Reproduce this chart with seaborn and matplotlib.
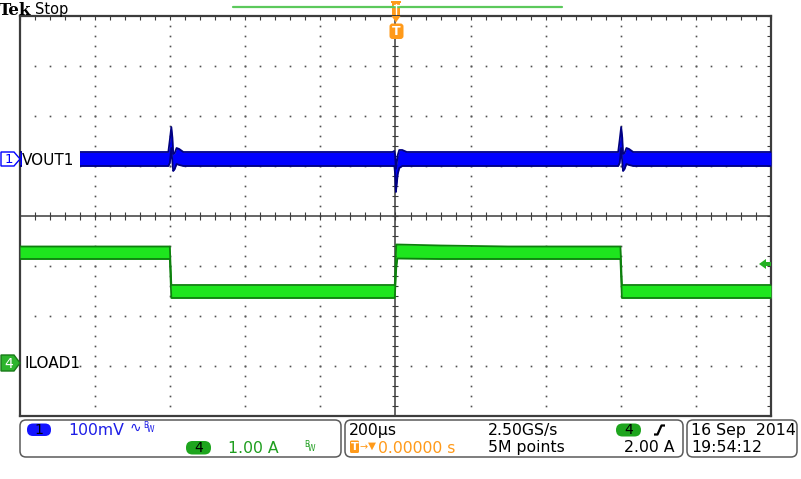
import numpy as np
import pandas as pd
import matplotlib
matplotlib.use("Agg")
import matplotlib.pyplot as plt
import seaborn as sns
from matplotlib.patches import FancyBboxPatch, Polygon, Rectangle

# --- scope settings (as shown on screen) ---
time_per_div_us = 200
ch1_scale_mv = 100
ch4_scale_a = 1.00
trigger_level_a = 2.00

# --- traces: envelope of the noisy band (upper / lower edge) ---
vout_t_us = [-1000,
             -605, -601, -597, -594, -592, -588, -583, -576, -565,
             -8, -3, -1, 1, 3, 6, 10, 18, 30,
             593, 597, 601, 604, 606, 610, 615, 622, 633,
             1000]
vout_hi_mv = [14,
              14, 38, 64, 42, 10, 12, 22, 20, 14,
              14, 16, 8, -20, -10, 8, 18, 18, 14,
              14, 38, 64, 42, 10, 12, 22, 20, 14,
              14]
vout_lo_mv = [-14,
              -14, -8, 22, -8, -24, -20, -10, -12, -14,
              -14, -14, -30, -66, -52, -30, -18, -14, -14,
              -14, -8, 22, -8, -24, -20, -10, -12, -14,
              -14]

iload_t_us = [-1000, -601, -597, -2, 2, 5, 120, 300, 599, 603, 1000]
iload_hi_a = [2.33, 2.33, 1.56, 1.56, 2.37, 2.37, 2.35, 2.33, 2.33, 1.56, 1.56]
iload_lo_a = [2.08, 2.08, 1.30, 1.30, 1.90, 2.09, 2.08, 2.08, 2.08, 1.30, 1.30]

# vertical position of channel ground markers (divisions from centre)
ch1_pos_div = 1.14
ch4_pos_div = -2.94

BLUE = "#0000ff"
BLUE_EDGE = "#000080"
GREEN = "#1ee61e"
GREEN_EDGE = "#0d800d"
ORANGE = "#ff9a1a"
TXT_BLUE = "#1e1ee6"
TXT_GREEN = "#1f9e1f"
GRID = "#3c3c3c"

sns.set_style("white")
plt.rcParams["font.family"] = ["DejaVu Sans"]

W, H = 801, 479
fig = plt.figure(figsize=(W / 100, H / 100), dpi=100)
fig.patch.set_facecolor("white")

# graticule area: x 20..771 px, y 16..416 px
ax = fig.add_axes([20 / W, (H - 416) / H, 751 / W, 400 / H])
ax.set_xlim(-5 * time_per_div_us, 5 * time_per_div_us)
ax.set_ylim(-4, 4)
for s in ax.spines.values():
    s.set_color(GRID)
    s.set_linewidth(1.6)
ax.set_xticks(np.arange(-1000, 1001, 40))
ax.set_yticks(np.arange(-4, 4.01, 0.2))
ax.tick_params(direction="in", length=3, width=0.8, color=GRID,
               top=True, right=True, labelbottom=False, labelleft=False)

# dotted graticule
for xd in [-800, -600, -400, -200, 200, 400, 600, 800]:
    ys = np.arange(-3.8, 3.81, 0.2)
    ax.plot(np.full_like(ys, xd), ys, ls="none", marker="s", ms=1.2,
            color="#505050", mec="none", zorder=1)
for yd in [-3, -2, -1, 1, 2, 3]:
    xs = np.arange(-960, 961, 40)
    ax.plot(xs, np.full_like(xs, yd, dtype=float), ls="none", marker="s",
            ms=1.2, color="#505050", mec="none", zorder=1)

# centre crosshair with minor ticks
ax.axhline(0, color=GRID, lw=1.1, zorder=1)
ax.axvline(0, color=GRID, lw=1.1, zorder=1)
xs = np.arange(-960, 961, 40)
ax.plot(xs, np.zeros_like(xs), ls="none", marker="|", ms=6, mew=0.8,
        color=GRID, zorder=1)
ys = np.arange(-3.8, 3.81, 0.2)
ax.plot(np.zeros_like(ys), ys, ls="none", marker="_", ms=5, mew=0.8,
        color=GRID, zorder=1)

# traces
vout = pd.DataFrame({"t": vout_t_us,
                     "hi": np.array(vout_hi_mv) / ch1_scale_mv + ch1_pos_div,
                     "lo": np.array(vout_lo_mv) / ch1_scale_mv + ch1_pos_div})
iload = pd.DataFrame({"t": iload_t_us,
                      "hi": np.array(iload_hi_a) / ch4_scale_a + ch4_pos_div,
                      "lo": np.array(iload_lo_a) / ch4_scale_a + ch4_pos_div})

for df, fill, edge in [(vout, BLUE, BLUE_EDGE), (iload, GREEN, GREEN_EDGE)]:
    ax.fill_between(df["t"], df["lo"], df["hi"], color=fill, lw=0, zorder=3)
    sns.lineplot(data=df, x="t", y="hi", ax=ax, color=edge, lw=1.3,
                 estimator=None, sort=False, zorder=4)
    sns.lineplot(data=df, x="t", y="lo", ax=ax, color=edge, lw=1.3,
                 estimator=None, sort=False, zorder=4)
ax.set_xlabel("")
ax.set_ylabel("")

# ---------- overlay in pixel coordinates ----------
ov = fig.add_axes([0, 0, 1, 1], zorder=5)
ov.set_xlim(0, W)
ov.set_ylim(H, 0)
ov.axis("off")
ov.patch.set_alpha(0)

# header
ov.text(-1, 15, "Tek", family="DejaVu Serif", weight="bold", size=12,
        color="black", va="baseline")
ov.text(35, 14, "Stop", size=10.5, color="black", va="baseline")
ov.plot([233, 562], [7, 7], color="#5cc95c", lw=1.6)

# trigger position marker
ov.add_patch(Rectangle((392, 2), 8, 13, color=ORANGE, lw=0))
ov.add_patch(Rectangle((391, 1), 10, 2.2, color=ORANGE, lw=0))
ov.plot([396, 396], [4, 14], color="white", lw=1.0)
ov.plot([393.5, 398.5], [4.5, 4.5], color="white", lw=1.0)
ov.add_patch(Polygon([[391.5, 16], [400.5, 16], [396, 22.5]], color=ORANGE, lw=0))
ov.add_patch(FancyBboxPatch((389.5, 23.5), 14, 15.5,
                            boxstyle="round,pad=0,rounding_size=3",
                            fc=ORANGE, ec="none"))
ov.text(396.5, 31.5, "T", color="white", size=9, weight="bold",
        ha="center", va="center")

# channel 1 marker and label
ov.add_patch(Polygon([[1, 152], [14, 152], [20, 159], [14, 166], [1, 166]],
                     fc="white", ec=BLUE, lw=1.0))
ov.text(8.5, 159.5, "1", color=BLUE, size=9.5, ha="center", va="center")
ov.add_patch(Rectangle((21.5, 150), 58.5, 18, fc="white", ec="none"))
ov.text(22, 165, "VOUT1", size=11, color="black", va="baseline")

# channel 4 marker and label
ov.add_patch(Polygon([[1, 355], [14, 355], [20, 363], [14, 371], [1, 371]],
                     fc="#2db52d", ec="#187a18", lw=1.0))
ov.text(8.5, 363.5, "4", color="white", size=10, ha="center", va="center")
ov.text(24, 368, "ILOAD1", size=11, color="black", va="baseline")

# trigger level arrow (right edge)
ov.add_patch(Polygon([[759, 264], [766, 259], [766, 269]],
                     color="#22b022", lw=0))
ov.add_patch(Rectangle((765, 262.3), 6, 3.4, color="#22b022", lw=0))

# ---------- status bar ----------
for x0, x1 in [(20, 341), (345, 683), (687, 797)]:
    ov.add_patch(FancyBboxPatch((x0, 420), x1 - x0, 37,
                                boxstyle="round,pad=0,rounding_size=6",
                                fc="white", ec="#5a5a5a", lw=1.1))

FS = 11.3
# box 1
ov.add_patch(FancyBboxPatch((27, 423.5), 24, 12.5,
                            boxstyle="round,pad=0,rounding_size=6",
                            fc="#1414ff", ec="none"))
ov.text(39, 430, "1", size=10, color="black", ha="center", va="center")
ov.text(68, 435, "100mV", size=FS, color=TXT_BLUE, va="baseline")
ov.text(130, 432, "∿", size=10, color=TXT_BLUE, va="baseline")
ov.text(143, 428, "B", size=5.5, color=TXT_BLUE, va="baseline")
ov.text(147, 432, "W", size=5.5, color=TXT_BLUE, va="baseline")

ov.add_patch(FancyBboxPatch((186, 441), 25, 13.5,
                            boxstyle="round,pad=0,rounding_size=6.5",
                            fc="#1ea51e", ec="none"))
ov.text(198.5, 448, "4", size=10, color="black", ha="center", va="center")
ov.text(228, 453, "1.00 A", size=FS, color=TXT_GREEN, va="baseline")
ov.text(304, 447, "B", size=5.5, color=TXT_GREEN, va="baseline")
ov.text(308, 451, "W", size=5.5, color=TXT_GREEN, va="baseline")

# box 2
ov.text(349, 435, "200µs", size=FS, color="black", va="baseline")
ov.add_patch(FancyBboxPatch((350, 440.5), 9, 12.5,
                            boxstyle="round,pad=0,rounding_size=1.5",
                            fc=ORANGE, ec="none"))
ov.text(354.5, 447, "T", size=8, color="white", weight="bold",
        ha="center", va="center")
ov.text(359.5, 447, "→", size=7, color=ORANGE, va="center")
ov.text(368, 446, "▼", size=7.5, color=ORANGE, va="center")
ov.text(378, 453, "0.00000 s", size=FS, color=ORANGE, va="baseline")
ov.text(488, 435, "2.50GS/s", size=FS, color="black", va="baseline")
ov.text(488, 452, "5M points", size=FS, color="black", va="baseline")
ov.add_patch(FancyBboxPatch((616, 423.5), 25, 13,
                            boxstyle="round,pad=0,rounding_size=6.5",
                            fc="#1ea51e", ec="none"))
ov.text(628.5, 430, "4", size=10, color="black", ha="center", va="center")
ov.plot([654, 657.5, 661.5, 665], [434.5, 434.5, 425.5, 425.5],
        color="black", lw=1.6, solid_capstyle="butt")
ov.text(674, 452, "2.00 A", size=FS, color="black", ha="right",
        va="baseline")

# box 3
ov.text(691, 435, "16 Sep  2014", size=FS, color="black", va="baseline")
ov.text(691, 452, "19:54:12", size=FS, color="black", va="baseline")

fig.savefig("out.png", dpi=100)
